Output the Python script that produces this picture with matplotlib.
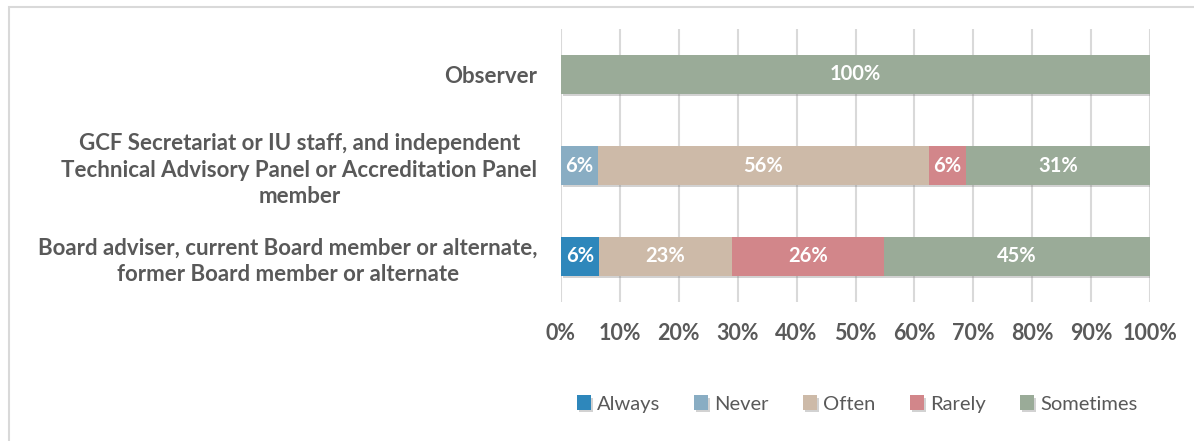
import matplotlib
matplotlib.use('Agg')
import matplotlib.pyplot as plt
import matplotlib.patheffects as pe
from matplotlib.patches import Rectangle
import numpy as np

# Data (percent of respondents per group)
groups = [
    'Board adviser, current Board member or alternate,\nformer Board member or alternate',
    'GCF Secretariat or IU staff, and independent\nTechnical Advisory Panel or Accreditation Panel\nmember',
    'Observer',
]
series = ['Always', 'Never', 'Often', 'Rarely', 'Sometimes']
always = [6.45, 0, 0]
never = [0, 6.25, 0]
often = [22.58, 56.25, 0]
rarely = [25.81, 6.25, 0]
sometimes = [45.16, 31.25, 100]
colors = ['#2e87bb', '#89adc3', '#cdbaa8', '#d2868a', '#9aab98']
xticks = [0, 10, 20, 30, 40, 50, 60, 70, 80, 90, 100]

plt.rcParams['font.family'] = ['Lato', 'DejaVu Sans']
text_color = '#595959'

W, H = 1194, 441
fig = plt.figure(figsize=(W / 100, H / 100), dpi=100)
fig.patch.set_facecolor('white')

# chart area border
fig.patches.append(Rectangle((9 / W, -0.05), 1.2, (H - 7) / H + 0.05, transform=fig.transFigure,
                             fill=False, edgecolor='#d9d9d9', linewidth=1.5, zorder=0))

ax = fig.add_axes([561 / W, (H - 302) / H, (1150 - 561) / W, (302 - 29) / H])

values = [always, never, often, rarely, sometimes]
y = np.arange(len(groups))
left = np.zeros(len(groups))
shadow = [pe.SimplePatchShadow(offset=(1.5, -2), shadow_rgbFace='#808080', alpha=0.35), pe.Normal()]
for name, vals, col in zip(series, values, colors):
    vals = np.array(vals, dtype=float)
    bars = ax.barh(y, vals, left=left, height=0.42, color=col, label=name, zorder=3)
    for b in bars:
        b.set_path_effects(shadow)
    for yi, v, l in zip(y, vals, left):
        if v > 0:
            ax.text(l + v / 2, yi, f'{round(v)}%', ha='center', va='center',
                    color='white', fontsize=14.5, fontweight='bold', zorder=4)
    left += vals

ax.set_xlim(0, 100)
ax.set_ylim(-0.5, 2.5)
ax.set_xticks(xticks)
ax.set_xticklabels([f'{t}%' for t in xticks], fontsize=15.5, fontweight='bold', color=text_color)
ax.set_yticks(y)
ax.set_yticklabels(groups, fontsize=16, fontweight='bold', color=text_color,
                   multialignment='center', linespacing=1.3)
ax.tick_params(axis='both', length=0)
ax.tick_params(axis='y', pad=17)
ax.tick_params(axis='x', pad=15)
ax.grid(axis='x', color='#d9d9d9', linewidth=1.5, zorder=0)
for s in ax.spines.values():
    s.set_visible(False)

leg = fig.legend(loc='center', bbox_to_anchor=(857 / W, (H - 404) / H), ncol=5, frameon=False,
                 fontsize=14.5, handlelength=0.7, handleheight=0.7, columnspacing=1.7,
                 handletextpad=0.3)
for t in leg.get_texts():
    t.set_color(text_color)

fig.savefig('out.png', dpi=100)
